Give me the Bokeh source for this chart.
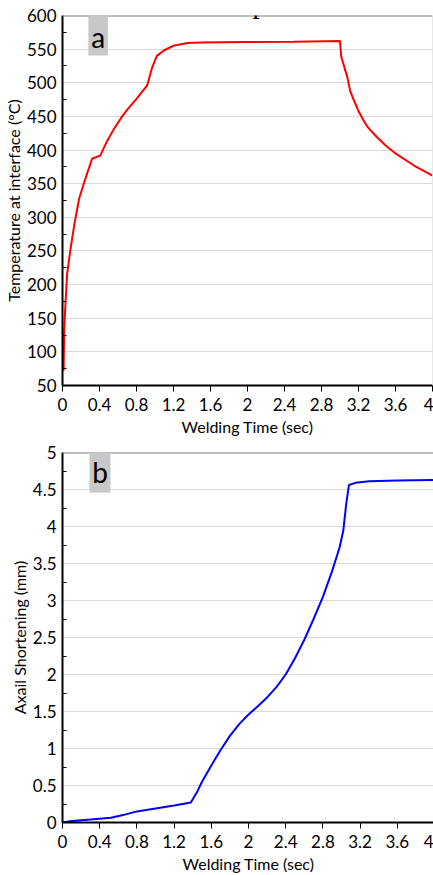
from bokeh.plotting import figure
from bokeh.layouts import column
from bokeh.models import (FixedTicker, Span, BoxAnnotation, Label, Range1d)
from bokeh.embed import file_html
from bokeh.resources import INLINE

# ---- data ----
t_temp = [0.012, 0.018, 0.03, 0.05, 0.09, 0.13, 0.18, 0.23, 0.32, 0.41, 0.47, 0.55, 0.63,
          0.7, 0.8, 0.915, 0.97, 1.02, 1.095, 1.2, 1.35, 1.49, 2.0, 2.5, 3.0, 3.013,
          3.08, 3.11, 3.15, 3.2, 3.25, 3.3, 3.4, 3.5, 3.6, 3.8, 4.0]
temp = [72, 130, 166, 216, 256, 291, 328, 350, 387, 392, 410, 430, 447,
        460, 476, 496, 523, 540, 548, 555, 559, 560, 560.5, 561, 562, 539,
        508, 488, 474, 458, 445, 434, 419, 406, 395, 377, 362]

t_short = [0, 0.1, 0.3, 0.52, 0.65, 0.8, 1.0, 1.2, 1.38, 1.45, 1.5, 1.6, 1.7,
           1.8, 1.9, 2.0, 2.1, 2.2, 2.3, 2.4, 2.5, 2.6, 2.7, 2.8, 2.9, 2.98,
           3.02, 3.05, 3.08, 3.15, 3.3, 3.6, 4.0]
short = [0.0, 0.02, 0.04, 0.065, 0.1, 0.15, 0.19, 0.23, 0.27, 0.42, 0.55, 0.77, 0.98,
         1.17, 1.33, 1.46, 1.57, 1.69, 1.83, 2.0, 2.22, 2.47, 2.75, 3.05, 3.4, 3.72,
         3.95, 4.3, 4.56, 4.59, 4.61, 4.62, 4.63]

x_ticks = [0, 0.4, 0.8, 1.2, 1.6, 2, 2.4, 2.8, 3.2, 3.6, 4]
temp_ticks = [50, 100, 150, 200, 250, 300, 350, 400, 450, 500, 550, 600]
short_ticks = [0, 0.5, 1, 1.5, 2, 2.5, 3, 3.5, 4, 4.5, 5]

FONT = "Lato"


def style(p, yticks, ymax):
    p.xaxis.ticker = FixedTicker(ticks=x_ticks)
    p.xaxis.major_label_overrides = {v: (str(int(v)) if float(v).is_integer() else str(v)) for v in x_ticks}
    p.yaxis.ticker = FixedTicker(ticks=yticks,
                                 minor_ticks=[(yticks[i] + yticks[i + 1]) / 2 for i in range(len(yticks) - 1)])
    p.yaxis.major_label_overrides = {v: (str(int(v)) if float(v).is_integer() else str(v)) for v in yticks}
    for ax in (p.xaxis[0], p.yaxis[0]):
        ax.axis_line_color = "black"
        ax.axis_line_width = 2
        ax.major_label_text_font = FONT
        ax.major_label_text_font_size = "17px"
        ax.major_label_text_color = "#000000"
        ax.axis_label_text_font = FONT
        ax.axis_label_text_font_size = "16px"
        ax.axis_label_text_font_style = "normal"
        ax.axis_label_text_color = "#000000"
    p.xaxis.major_tick_out = 6
    p.xaxis.major_tick_in = 0
    p.xaxis.major_tick_line_color = "black"
    p.xaxis.minor_tick_line_color = None
    p.xaxis.major_label_standoff = 6
    p.xaxis.axis_label_standoff = 3
    p.yaxis.major_tick_out = 0
    p.yaxis.major_tick_in = 0
    p.yaxis.minor_tick_in = 4
    p.yaxis.minor_tick_out = 0
    p.yaxis.minor_tick_line_color = "black"
    p.yaxis.major_label_standoff = 6
    p.yaxis.axis_label_standoff = 1
    p.xgrid.grid_line_color = None
    p.ygrid.ticker = FixedTicker(ticks=yticks)
    p.ygrid.grid_line_color = "#d9d9d9"
    p.ygrid.grid_line_width = 1
    p.outline_line_color = None
    p.background_fill_color = "white"
    p.border_fill_color = "white"
    p.add_layout(Span(location=ymax, dimension="width", line_color="#7f7f7f", line_width=2))
    p.add_layout(Span(location=4, dimension="height", line_color="#d0d0d0", line_width=1))


# ---- figure a ----
pa = figure(frame_width=370, frame_height=370, min_border_left=62, min_border_right=1,
            min_border_top=15, min_border_bottom=57,
            x_range=Range1d(0, 4), y_range=Range1d(50, 600),
            output_backend="svg", toolbar_location=None,
            x_axis_label="Welding Time (sec)", y_axis_label="Temperature at interface (°C)")
style(pa, temp_ticks, 600)
pa.line(t_temp, temp, line_color="#ff0000", line_width=2)
pa.add_layout(BoxAnnotation(left=0.28, right=0.49, top=600, bottom=540.5,
                            fill_color="#c8c8c8", fill_alpha=1, line_color=None))
pa.add_layout(Label(x=0.385, y=568, text="a", text_align="center", text_baseline="middle",
                    text_font=FONT, text_font_size="28px", text_color="black"))
pa.add_layout(Label(x=2.13, y=617.5, text="p", text_align="center", text_baseline="alphabetic",
                    text_font="Liberation Serif", text_font_size="28px", text_color="black"))

# ---- figure b ----
pb = figure(frame_width=372, frame_height=370, min_border_left=60, min_border_right=1,
            min_border_top=10, min_border_bottom=53,
            x_range=Range1d(0, 4), y_range=Range1d(0, 5),
            output_backend="svg", toolbar_location=None,
            x_axis_label="Welding Time (sec)", y_axis_label="Axail Shortening (mm)")
style(pb, short_ticks, 5)
pb.line(t_short, short, line_color="#0000ff", line_width=2)
pb.add_layout(BoxAnnotation(left=0.29, right=0.516, top=5, bottom=4.46,
                            fill_color="#c8c8c8", fill_alpha=1, line_color=None))
pb.add_layout(Label(x=0.403, y=4.73, text="b", text_align="center", text_baseline="middle",
                    text_font=FONT, text_font_size="28px", text_color="black"))

layout = column(pa, pb, spacing=0)
open("out.html", "w").write(file_html(layout, INLINE))
